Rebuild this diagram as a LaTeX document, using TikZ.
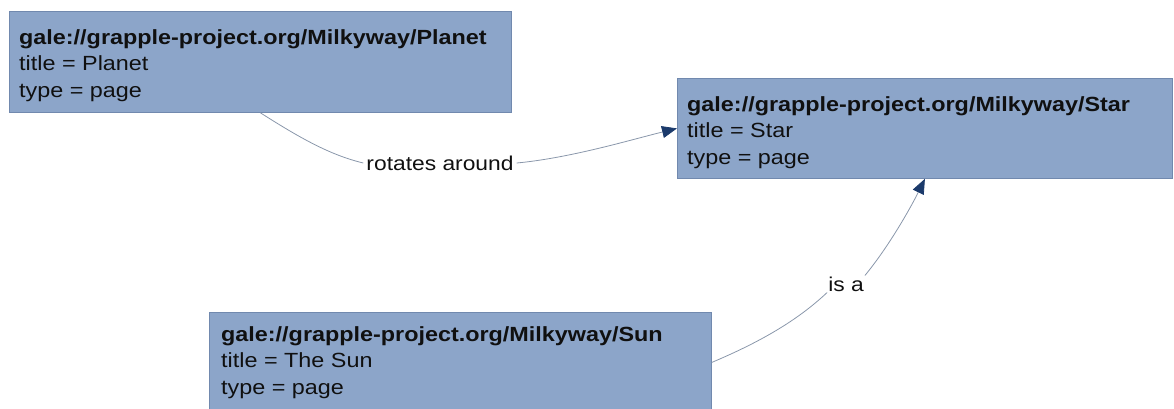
\documentclass[tikz,border=0pt]{standalone}
\usepackage{fontspec}
\setmainfont{Liberation Sans}[FakeStretch=1.14]
\usetikzlibrary{arrows.meta}
\definecolor{boxfill}{HTML}{8CA5C9}
\definecolor{boxline}{HTML}{7189AE}
\definecolor{edgecol}{HTML}{8A97AB}
\definecolor{tipcol}{HTML}{1B3A6B}
\definecolor{txtcol}{HTML}{101010}
\tikzset{
  resbox/.style={draw=boxline, line width=0.8pt, fill=boxfill},
  restext/.style={anchor=north west, inner sep=0pt, align=left, text=txtcol,
    font=\fontsize{20.5}{26.6}\selectfont},
  edgelabel/.style={inner sep=1pt, text=txtcol, font=\fontsize{20}{23}\selectfont},
  rel/.style={draw=edgecol, line width=0.8pt},
  relarrow/.style={rel, -{Triangle[length=15pt,width=12pt,color=tipcol]}}
}
\begin{document}
\begin{tikzpicture}[x=1pt,y=-1pt]
\useasboundingbox (0,0) rectangle (1174,408);
% boxes
\node[resbox, minimum width=502pt, minimum height=101pt, anchor=north west, inner sep=0pt] (planet) at (9,11) {};
\node[resbox, minimum width=495pt, minimum height=100pt, anchor=north west, inner sep=0pt] (star) at (677,78) {};
\node[resbox, minimum width=502pt, minimum height=100pt, anchor=north west, inner sep=0pt] (sun) at (209,312) {};
% texts
\node[restext] (planetT) at (19,29) {\textbf{gale://grapple-project.org/Milkyway/Planet}\\title = Planet\\type = page};
\node[restext] (starT) at (687,96) {\textbf{gale://grapple-project.org/Milkyway/Star}\\title = Star\\type = page};
\node[restext] (sunT) at (221,326) {\textbf{gale://grapple-project.org/Milkyway/Sun}\\title = The Sun\\type = page};
% labels
\node[edgelabel] (rot) at (440,163) {rotates around};
\node[edgelabel] (isa) at (846,284) {is a};
% connectors
\draw[rel] (planet.south) .. controls (300,138) and (330,155) .. ([xshift=-2pt]rot.west);
\draw[relarrow] ([xshift=2pt]rot.east) .. controls (570,158) and (630,140) .. (star.west);
\draw[rel] (sun.east) .. controls (765,340) and (800,318) .. (isa.south west);
\draw[relarrow] (isa.north east) .. controls (890,245) and (912,205) .. (star.south);
\end{tikzpicture}
\end{document}
